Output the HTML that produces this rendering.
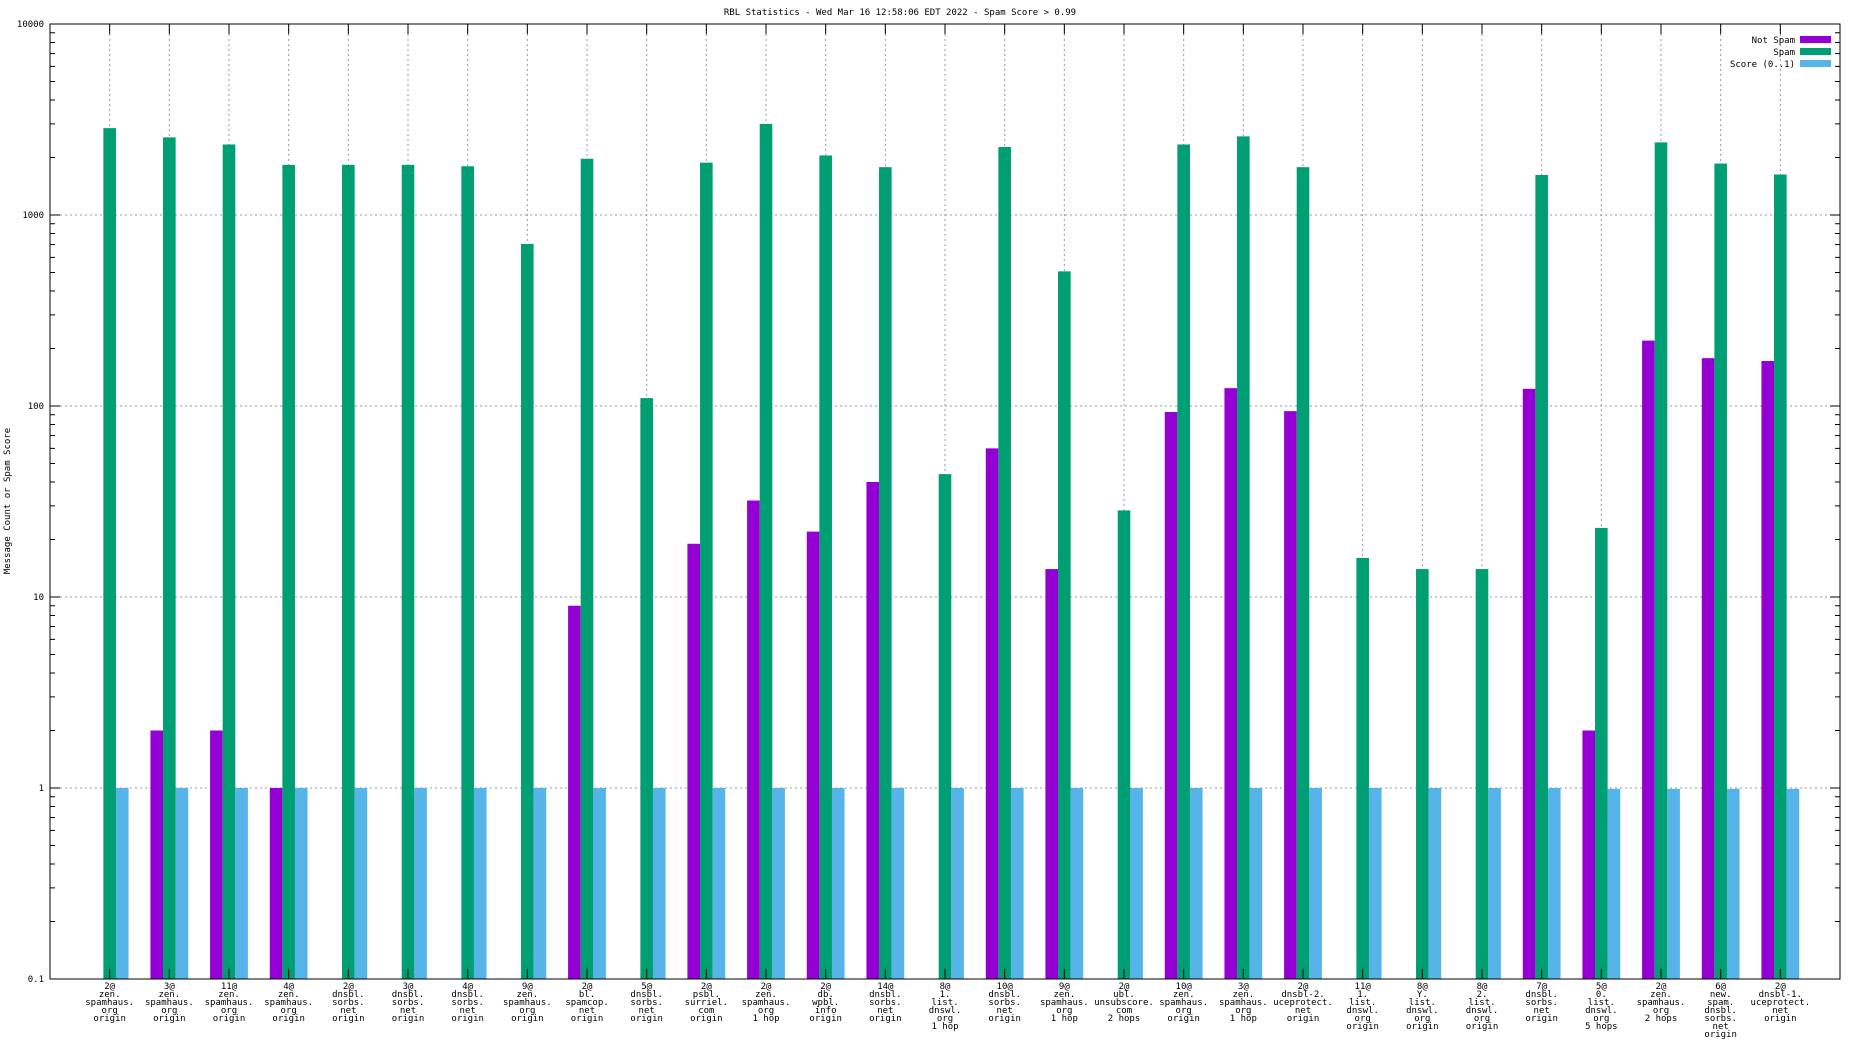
<!DOCTYPE html>
<html><head><meta charset="utf-8"><style>
body{margin:0;background:#fff}
svg{display:block;font-family:"DejaVu Sans Mono","Liberation Mono",monospace}
</style></head><body>
<svg id="chart" width="1856" height="1044" viewBox="0 0 1856 1044" xmlns="http://www.w3.org/2000/svg">
<text x="900" y="15" font-size="9" text-anchor="middle">RBL Statistics - Wed Mar 16 12:58:06 EDT 2022 - Spam Score &gt; 0.99</text>
<text transform="translate(10,501) rotate(-90)" font-size="9" text-anchor="middle">Message Count or Spam Score</text>
<g id="grid"></g><g id="bars"></g><g id="axes"></g><g id="xlabels"></g><g id="legend"></g>
</svg>
<script>
const categories=[
"2@|zen.|spamhaus.|org|origin","3@|zen.|spamhaus.|org|origin","11@|zen.|spamhaus.|org|origin","4@|zen.|spamhaus.|org|origin",
"2@|dnsbl.|sorbs.|net|origin","3@|dnsbl.|sorbs.|net|origin","4@|dnsbl.|sorbs.|net|origin","9@|zen.|spamhaus.|org|origin",
"2@|bl.|spamcop.|net|origin","5@|dnsbl.|sorbs.|net|origin","2@|psbl.|surriel.|com|origin","2@|zen.|spamhaus.|org|1 hop",
"2@|db.|wpbl.|info|origin","14@|dnsbl.|sorbs.|net|origin","8@|1.|list.|dnswl.|org|1 hop","10@|dnsbl.|sorbs.|net|origin",
"9@|zen.|spamhaus.|org|1 hop","2@|ubl.|unsubscore.|com|2 hops","10@|zen.|spamhaus.|org|origin","3@|zen.|spamhaus.|org|1 hop",
"2@|dnsbl-2.|uceprotect.|net|origin","11@|1.|list.|dnswl.|org|origin","8@|Y.|list.|dnswl.|org|origin","8@|2.|list.|dnswl.|org|origin",
"7@|dnsbl.|sorbs.|net|origin","5@|0.|list.|dnswl.|org|5 hops","2@|zen.|spamhaus.|org|2 hops","6@|new.|spam.|dnsbl.|sorbs.|net|origin",
"2@|dnsbl-1.|uceprotect.|net|origin"];
const notSpam=[0,2,2,1,0,0,0,0,9,0,19,32,22,40,0,60,14,0,93,124,94,0,0,0,123,2,220,178,172];
const spam=[2850,2550,2340,1830,1830,1830,1800,705,1970,110,1880,3000,2050,1780,44,2270,507,28.4,2340,2580,1780,16,14,14,1620,23,2400,1860,1630];
const score=[1,1,1,1,1,1,1,1,1,1,1,1,1,1,1,1,1,1,1,1,1,1,1,1,1,0.99,0.99,0.99,0.99];
const yTicks=[0.1,1,10,100,1000,10000];
const yTickLabels=["0.1","1","10","100","1000","10000"];
const seriesNames=["Not Spam","Spam","Score (0..1)"];
const colors=["#9400d3","#009e73","#56b4e9"];

const L=50,R=1840,T=24,B=979,NS="http://www.w3.org/2000/svg";
const x=i=>L+(i+1)*(R-L)/(categories.length+1);
const y=v=>B-(Math.log10(v)-Math.log10(0.1))*(B-T)/5;
const bw=12.6;
function mk(tag,attrs,parent){const e=document.createElementNS(NS,tag);for(const k in attrs)e.setAttribute(k,attrs[k]);parent.appendChild(e);return e;}
const grid=document.getElementById('grid'),bars=document.getElementById('bars'),axes=document.getElementById('axes'),xl=document.getElementById('xlabels'),lg=document.getElementById('legend');
// horizontal grid + y ticks
yTicks.forEach((v,k)=>{
  if(k>0&&k<yTicks.length-1){const g=mk('line',{x1:L,x2:R,y1:y(v),y2:y(v),stroke:'#999','stroke-dasharray':'2,3','stroke-width':1},grid);
  
  }
  const t=mk('line',{x1:L,x2:L+10,y1:y(v),y2:y(v),stroke:'#000'},axes);
  
  
  mk('line',{x1:R,x2:R-10,y1:y(v),y2:y(v),stroke:'#000'},axes);
  const lab=mk('text',{x:L-6,y:y(v)+3,'font-size':9,'text-anchor':'end'},axes);lab.textContent=yTickLabels[k];
  
  
  if(k<yTicks.length-1){for(let m=2;m<=9;m++){const mv=v*m;
    mk('line',{x1:L,x2:L+5,y1:y(mv),y2:y(mv),stroke:'#000'},axes);
    mk('line',{x1:R,x2:R-5,y1:y(mv),y2:y(mv),stroke:'#000'},axes);}}
});
// vertical grid + bars + labels
categories.forEach((c,i)=>{
  const cx=x(i);
  const g=mk('line',{x1:cx,x2:cx,y1:T,y2:B,stroke:'#999','stroke-dasharray':'2,3'},grid);
  
  
  mk('line',{x1:cx,x2:cx,y1:T,y2:T+10,stroke:'#000'},axes);
  mk('line',{x1:cx,x2:cx,y1:B,y2:B-10,stroke:'#000'},axes);
  [notSpam,spam,score].forEach((arr,s)=>{
    const v=arr[i]; if(!v||v<=0.1) return;
    const r=mk('rect',{x:cx+(s-1)*bw-bw/2,y:y(v),width:bw,height:B-y(v),fill:colors[s]},bars);
    
    
  });
  const t=mk('text',{'font-size':9,'text-anchor':'middle'},xl);
  
  
  c.split('|').forEach((line,j)=>{const ts=mk('tspan',{x:cx,y:989+j*8},t);ts.textContent=line;});
});
const frame=mk('rect',{x:L,y:T,width:R-L,height:B-T,fill:'none',stroke:'#000','stroke-width':1},axes);


seriesNames.forEach((n,s)=>{
  const ly=40+s*12;
  const t=mk('text',{x:1795,y:ly+3,'font-size':9,'text-anchor':'end'},lg);t.textContent=n;
  
  
  const r=mk('rect',{x:1800,y:ly-4,width:31,height:7,fill:colors[s]},lg);
  
  
});
</script>
</body></html>
